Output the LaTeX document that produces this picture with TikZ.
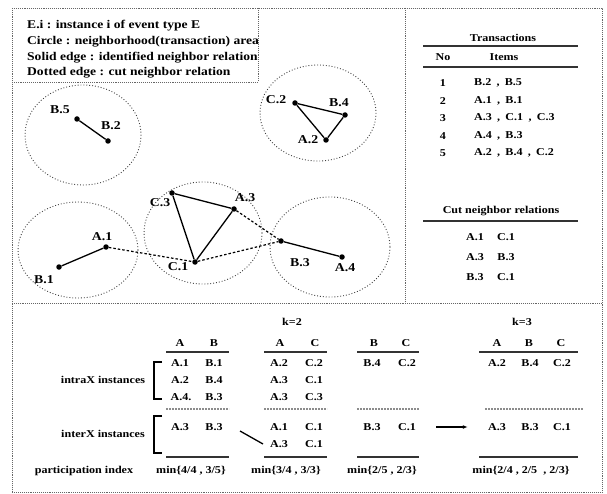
\documentclass[tikz,border=0pt]{standalone}
\usepackage{fontspec}
\setmainfont{Liberation Serif}[FakeStretch=1.15]
\usetikzlibrary{arrows.meta,positioning}
\tikzset{
  frame/.style={draw=black!60, line width=0.9pt, densely dotted},
  area/.style={draw=black!75, line width=0.9pt, dotted},
  spot/.style={circle, fill=black, inner sep=0pt, minimum size=5.5pt},
  link/.style={line width=1.3pt},
  cutlink/.style={line width=1.2pt, dash pattern=on 2.5pt off 2pt},
  tag/.style={font=\bfseries\fontsize{12}{14}\selectfont, inner sep=0pt},
  legend/.style={font=\bfseries\fontsize{11.8}{14}\selectfont, anchor=west, inner sep=0pt},
  head/.style={font=\bfseries\fontsize{10.5}{12}\selectfont, inner sep=0pt},
  cell/.style={font=\bfseries\fontsize{10.5}{12}\selectfont, inner sep=0pt},
  rule/.style={line width=1.8pt, black!80},
  split/.style={line width=1.6pt, black!45, dash pattern=on 2pt off 1pt},
  brace/.style={line width=1.2pt},
  flow/.style={-{Latex[length=5pt]}, line width=1.1pt}
}

\begin{document}
\begin{tikzpicture}[x=1pt,y=-1pt]
  \useasboundingbox (0,0) rectangle (607,494);
  % frames
  \draw[frame] (12,8) rectangle (602,492);
  \draw[frame] (405,8) -- (405,303);
  \draw[frame] (12,303) -- (602,303);
  \draw[frame] (258,8) -- (258,82) -- (12,82);
  % legend
  \node[legend] (leg1) at (27,26) {E.i : instance i of event type E};
  \node[legend] (leg2) at (27,42) {Circle : neighborhood(transaction) area};
  \node[legend] (leg3) at (27,58) {Solid edge : identified neighbor relation};
  \node[legend] (leg4) at (27,73) {Dotted edge : cut neighbor relation};
  % neighborhoods
  \draw[area] (83,135) ellipse (58 and 50);
  \draw[area] (318,113) ellipse (58 and 48);
  \draw[area] (78,250) ellipse (60 and 48);
  \draw[area] (203,233) ellipse (59 and 51);
  \draw[area] (330,247) ellipse (60 and 50);
  % instances
  \foreach \nm/\x/\y in {B5/77/119, B2/108/141, C2/295/103, B4/345/115, A2/326/140,
      A1/106/247, B1/59/267, C3/172/193, A3/234/209, C1/195/262, B3/281/241, A4/342/257}
    \node[spot] (\nm) at (\x,\y) {};
  \foreach \nm/\x/\y/\t in {B5/60/110/B.5, B2/111/126/B.2, C2/276/100/C.2, B4/339/103/B.4,
      A2/308/140/A.2, A1/102/237/A.1, B1/44/280/B.1, C3/160/203/C.3, A3/245/198/A.3,
      C1/178/267/C.1, B3/300/263/B.3, A4/345/268/A.4}
    \node[tag] (\nm-t) at (\x,\y) {\t};
  \draw[link] (B5) -- (B2);
  \draw[link] (C2) -- (B4) -- (A2) -- (C2);
  \draw[link] (B1) -- (A1);
  \draw[link] (C3) -- (A3) -- (C1) -- (C3);
  \draw[link] (B3) -- (A4);
  \draw[cutlink] (A1) -- (C1);
  \draw[cutlink] (A3) -- (B3);
  \draw[cutlink] (C1) -- (B3);
  % transactions
  \node[head] (tr-title) at (503,38) {Transactions};
  \draw[rule] (423,46) -- (578,46);
  \node[head] (tr-no) at (443,57) {No};
  \node[head] (tr-items) at (504,57) {Items};
  \draw[rule] (423,67) -- (578,67);
  \foreach \n/\y/\t in {1/83/{B.2\enspace,\enspace B.5}, 2/101/{A.1\enspace,\enspace B.1},
      3/118/{A.3\enspace,\enspace C.1\enspace,\enspace C.3}, 4/136/{A.4\enspace,\enspace B.3},
      5/153/{A.2\enspace,\enspace B.4\enspace,\enspace C.2}} {
    \node[cell] (tr\n) at (443,\y) {\n};
    \node[cell, anchor=west] (tr\n-items) at (474,\y) {\t};
  }
  % cut relations
  \node[head] (cut-title) at (501,211) {Cut neighbor relations};
  \draw[rule] (423,221) -- (578,221);
  \foreach \n/\y/\a/\b in {1/237/A.1/C.1, 2/257/A.3/B.3, 3/277/B.3/C.1} {
    \node[cell] (cut\n-a) at (475,\y) {\a};
    \node[cell] (cut\n-b) at (506,\y) {\b};
  }
  % pattern tables
  \node[head] (k2) at (292,322) {k=2};
  \node[head] (k3) at (522,322) {k=3};
  \foreach \nm/\x/\t in {t1a/180/A, t1b/214/B, t2a/280/A, t2c/315/C, t3b/374/B, t3c/406/C,
      t4a/497/A, t4b/529/B, t4c/561/C}
    \node[head] (\nm) at (\x,343) {\t};
  \foreach \l/\r/\sl/\sr in {166/229/166/229, 264/327/264/327, 357/419/357/419, 479/578/485/583} {
    \draw[rule] (\l,352) -- (\r,352);
    \draw[split] (\sl,409) -- (\sr,409);
    \draw[rule] (\l,457) -- (\r,457);
  }
  \foreach \nm/\x/\y/\t in {t1r1a/180/363/A.1, t1r1b/214/363/B.1, t1r2a/180/380/A.2,
      t1r2b/214/380/B.4, t1r3a/181/397/A.4., t1r3b/214/397/B.3, t1i1a/180/427/A.3,
      t1i1b/214/427/B.3,
      t2r1a/279/363/A.2, t2r1b/314/363/C.2, t2r2a/279/380/A.3, t2r2b/314/380/C.1,
      t2r3a/279/397/A.3, t2r3b/314/397/C.3, t2i1a/279/427/A.1, t2i1b/314/427/C.1,
      t2i2a/279/444/A.3, t2i2b/314/444/C.1,
      t3r1a/372/363/B.4, t3r1b/407/363/C.2, t3i1a/372/427/B.3, t3i1b/407/427/C.1,
      t4r1a/497/363/A.2, t4r1b/530/363/B.4, t4r1c/562/363/C.2,
      t4i1a/497/427/A.3, t4i1b/530/427/B.3, t4i1c/562/427/C.1}
    \node[cell] (\nm) at (\x,\y) {\t};
  % instance groups
  \node[cell] (intra) at (103,380) {intraX instances};
  \node[cell] (inter) at (103,434) {interX instances};
  \draw[brace] (162,362) -- (154,362) -- (154,399) -- (162,399);
  \draw[brace] (162,416) -- (154,416) -- (154,453) -- (162,453);
  \coordinate (sl1) at (240,431);
  \coordinate (sl2) at (263,444);
  \draw[link] (sl1) -- (sl2);
  \draw[flow, shorten <=20pt, shorten >=20pt] (t3i1b) -- (t4i1a);
  % participation index
  \node[cell] (pi) at (84,471) {participation index};
  \node[cell] (pi1) at (191,471) {min\{4/4 , 3/5\}};
  \node[cell] (pi2) at (286,471) {min\{3/4 , 3/3\}};
  \node[cell] (pi3) at (382,471) {min\{2/5 , 2/3\}};
  \node[cell] (pi4) at (521,471) {min\{2/4 , 2/5 \ , 2/3\}};
\end{tikzpicture}
\end{document}
